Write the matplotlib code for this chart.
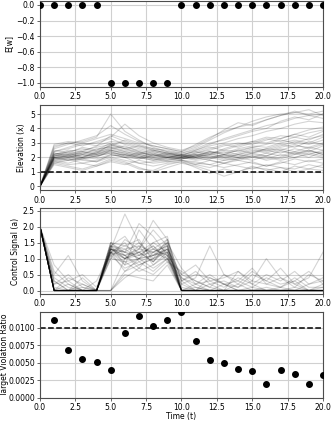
import matplotlib
matplotlib.use("Agg")
import matplotlib.pyplot as plt
import numpy as np

# ---------------- data ----------------
time_steps = list(range(21))
expected_w = [0, 0, 0, 0, 0, -1, -1, -1, -1, -1, 0, 0, 0, 0, 0, 0, 0, 0, 0, 0, 0]

elevation_runs = [
    [0, 2.0, 2.1, 2.3, 2.2, 2.6, 2.4, 2.2, 2.0, 2.1, 2.0, 2.2, 2.4, 2.3, 2.6, 2.8, 2.7, 3.0, 3.2, 3.0, 3.4],
    [0, 1.9, 1.8, 1.9, 2.1, 2.3, 2.0, 1.9, 2.2, 1.9, 2.0, 1.8, 1.9, 2.1, 2.0, 2.2, 2.1, 2.4, 2.3, 2.5, 2.2],
    [0, 2.4, 2.6, 2.9, 3.0, 3.3, 2.9, 2.6, 2.4, 2.2, 2.1, 2.5, 2.9, 3.3, 3.6, 3.9, 4.2, 4.4, 4.7, 4.9, 5.0],
    [0, 1.7, 1.5, 1.6, 1.8, 2.1, 2.2, 2.0, 1.8, 1.9, 1.8, 1.6, 1.5, 1.3, 1.5, 1.7, 1.4, 1.6, 1.9, 1.7, 1.9],
    [0, 2.2, 2.5, 2.4, 2.8, 3.1, 3.0, 2.7, 2.5, 2.3, 2.2, 2.4, 2.2, 2.6, 2.9, 3.1, 3.4, 3.3, 3.6, 3.9, 4.1],
    [0, 2.0, 1.9, 2.2, 2.0, 2.5, 2.3, 2.1, 1.9, 2.0, 1.9, 2.1, 2.3, 2.0, 2.2, 2.4, 2.6, 2.5, 2.8, 2.7, 3.0],
    [0, 2.8, 3.0, 3.1, 3.4, 5.0, 3.8, 3.2, 2.7, 2.4, 2.3, 2.6, 3.0, 3.2, 3.5, 3.8, 4.0, 4.5, 4.8, 4.6, 5.0],
    [0, 1.6, 1.4, 1.2, 1.5, 1.9, 1.7, 1.3, 1.0, 1.3, 1.6, 1.4, 1.1, 0.7, 1.0, 1.3, 1.2, 1.0, 1.4, 1.2, 1.5],
    [0, 2.3, 2.2, 2.5, 2.7, 2.9, 2.6, 2.8, 2.5, 2.3, 2.1, 2.0, 2.3, 2.5, 2.4, 2.7, 2.9, 3.2, 3.0, 3.3, 3.5],
    [0, 2.1, 2.3, 2.0, 2.2, 2.4, 2.1, 2.3, 2.1, 2.0, 2.1, 1.9, 2.0, 1.8, 1.9, 2.1, 2.0, 1.8, 2.0, 2.2, 2.0],
    [0, 2.6, 2.9, 3.2, 3.5, 4.2, 3.6, 3.1, 2.8, 2.6, 2.4, 2.7, 3.2, 3.7, 4.1, 4.5, 4.8, 5.0, 5.1, 5.0, 5.2],
    [0, 1.8, 2.0, 1.8, 1.7, 2.0, 1.8, 1.6, 1.7, 1.8, 1.9, 2.0, 1.8, 1.6, 1.8, 1.6, 1.4, 1.7, 1.5, 1.8, 1.6],
    [0, 2.0, 2.2, 2.4, 2.3, 2.7, 2.5, 2.3, 2.2, 2.1, 2.0, 2.3, 2.5, 2.8, 3.0, 2.9, 3.2, 3.5, 3.4, 3.7, 3.9],
    [0, 1.9, 2.1, 2.0, 2.4, 2.6, 2.8, 2.4, 2.1, 2.2, 2.1, 2.2, 2.0, 2.2, 2.1, 2.3, 2.5, 2.3, 2.6, 2.4, 2.8],
    [0, 2.5, 2.3, 2.7, 2.5, 3.0, 2.7, 2.5, 2.3, 2.0, 1.9, 2.1, 2.4, 2.2, 2.5, 2.3, 2.6, 2.9, 2.7, 3.1, 2.9],
    [0, 1.5, 1.3, 1.1, 1.4, 1.7, 1.5, 1.8, 1.6, 1.7, 1.8, 1.5, 1.3, 1.6, 1.4, 1.2, 1.5, 1.3, 1.2, 1.5, 1.3],
    [0, 2.2, 2.0, 2.3, 2.5, 2.8, 3.2, 2.9, 2.6, 2.4, 2.2, 2.4, 2.7, 2.5, 2.8, 3.1, 3.0, 3.3, 3.6, 3.4, 3.8],
    [0, 2.0, 2.1, 1.9, 2.1, 2.3, 2.2, 2.0, 2.3, 2.1, 2.0, 2.2, 2.1, 1.9, 2.2, 2.0, 2.3, 2.1, 2.4, 2.2, 2.5],
    [0, 2.7, 3.0, 2.8, 3.1, 3.4, 4.3, 3.5, 3.0, 2.7, 2.5, 2.8, 3.3, 3.9, 4.4, 4.2, 4.6, 4.9, 5.2, 4.9, 4.7],
    [0, 1.8, 1.6, 1.9, 1.7, 2.2, 2.0, 1.6, 1.4, 1.6, 1.7, 1.5, 1.8, 1.6, 1.9, 2.1, 1.8, 2.0, 2.3, 2.0, 2.4],
    [0, 2.1, 2.4, 2.2, 2.6, 2.7, 2.4, 2.2, 2.4, 2.2, 2.1, 2.3, 2.6, 2.9, 2.7, 3.0, 3.3, 3.1, 3.4, 3.2, 3.6],
    [0, 2.3, 2.1, 2.4, 2.2, 2.5, 2.2, 2.0, 1.8, 2.0, 2.2, 2.0, 2.2, 2.4, 2.2, 2.5, 2.3, 2.6, 2.4, 2.7, 2.5],
    [0, 1.7, 1.9, 1.6, 1.4, 1.8, 1.6, 1.2, 1.1, 1.5, 1.7, 1.3, 0.9, 1.2, 1.0, 1.4, 1.1, 1.3, 1.0, 1.2, 1.1],
    [0, 2.4, 2.7, 3.0, 2.8, 3.5, 3.1, 2.8, 2.6, 2.5, 2.3, 2.5, 2.8, 3.0, 3.3, 3.5, 3.8, 4.0, 4.3, 4.5, 4.4],
    [0, 2.0, 1.8, 2.0, 1.9, 2.2, 2.0, 2.2, 2.0, 1.8, 2.0, 1.9, 2.1, 2.0, 1.8, 2.0, 1.9, 2.2, 2.0, 2.3, 2.1],
    [0, 2.9, 3.1, 3.0, 3.3, 3.6, 3.3, 3.0, 2.8, 2.6, 2.4, 2.9, 3.4, 3.8, 4.1, 4.3, 4.6, 4.9, 5.1, 5.3, 4.9],
    [0, 1.9, 2.0, 2.2, 2.1, 2.4, 2.1, 1.9, 2.1, 2.3, 2.1, 2.0, 2.2, 2.1, 2.3, 2.6, 2.4, 2.7, 2.9, 2.6, 2.9],
    [0, 2.2, 2.4, 2.6, 2.4, 2.8, 2.6, 2.4, 2.2, 2.0, 1.9, 2.1, 1.9, 2.2, 2.0, 2.3, 2.1, 2.5, 2.2, 2.4, 2.3],
    [0, 1.6, 1.8, 2.0, 2.3, 2.5, 2.3, 2.1, 1.9, 1.7, 1.8, 1.7, 1.5, 1.8, 2.0, 1.8, 2.1, 1.9, 2.2, 2.5, 2.2],
    [0, 2.1, 2.2, 2.1, 2.3, 2.9, 2.6, 2.3, 2.5, 2.3, 2.2, 2.1, 2.4, 2.2, 2.5, 2.7, 2.5, 2.8, 3.1, 2.9, 3.2],
]

control_runs = [
    [2.0, 0, 0, 0, 0, 1.3, 1.1, 1.2, 0.9, 1.4, 0, 0, 0, 0, 0, 0, 0, 0, 0, 0, 0],
    [2.0, 0, 0, 0, 0, 1.4, 0.8, 1.0, 1.3, 1.6, 0, 0.2, 0, 0, 0, 0, 0, 0, 0, 0, 0],
    [2.0, 0.3, 0, 0, 0, 1.2, 1.5, 0.9, 1.1, 1.2, 0.3, 0, 0, 0.2, 0, 0, 0, 0, 0, 0, 0],
    [2.0, 0, 0, 0.4, 0, 0, 0.6, 1.0, 0.7, 1.0, 0, 0, 0, 0, 0, 0, 0, 0, 0, 0, 0],
    [2.0, 0, 0.2, 0, 0, 1.3, 2.4, 1.5, 1.1, 1.3, 0.5, 0.3, 0.1, 0, 0.2, 0, 0.1, 0, 0, 0, 0.1],
    [2.0, 0.8, 0.3, 0, 0, 1.0, 0.9, 0.6, 0.8, 1.1, 0, 0, 0, 0, 0, 0, 0, 0, 0, 0, 0],
    [2.0, 0, 0, 0, 0, 1.5, 1.2, 2.1, 1.7, 1.1, 0, 0, 0.4, 0.2, 0, 0, 0, 0, 0, 0, 0],
    [2.0, 0, 0, 0, 0, 0, 0.4, 0.7, 0.5, 0.9, 0, 0, 0, 0, 0, 0, 0, 0, 0, 0, 0],
    [2.0, 0.2, 0.5, 0.1, 0, 1.2, 1.0, 1.4, 1.2, 1.5, 0.7, 0.2, 0.3, 0.1, 0.4, 0.2, 0, 0.1, 0.3, 0, 0.2],
    [2.0, 0, 0, 0, 0, 1.4, 1.3, 1.0, 1.5, 1.7, 0, 0, 0, 0, 0, 0, 0, 0, 0, 0, 0],
    [2.0, 0.5, 1.1, 0.3, 0, 1.1, 0.7, 0.9, 0.6, 1.0, 0.2, 0.4, 1.4, 0.5, 0.2, 0.6, 0.3, 0.1, 0, 0.2, 0.4],
    [2.0, 0, 0, 0, 0, 1.3, 1.0, 1.3, 1.9, 1.4, 0, 0, 0, 0, 0, 0, 0, 0, 0, 0, 0],
    [2.0, 0, 0, 0.2, 0, 1.2, 1.1, 0.8, 1.0, 1.3, 0.4, 0.1, 0, 0, 0.6, 0.3, 1.0, 0.4, 0.2, 0, 0],
    [2.0, 0, 0, 0, 0, 1.4, 1.2, 1.5, 1.0, 1.2, 0, 0, 0, 0, 0, 0, 0, 0, 0, 0, 0],
    [2.0, 0.1, 0, 0, 0, 0, 0.5, 0.4, 0.3, 0.8, 0, 0, 0, 0, 0, 0, 0, 0, 0, 0, 0],
    [2.0, 0, 0, 0, 0, 1.0, 1.6, 1.3, 2.2, 1.6, 0.3, 0.6, 0.2, 0.3, 0.1, 0.5, 0.3, 0.7, 0.2, 0.4, 1.2],
    [2.0, 0, 0.4, 0.2, 0, 1.3, 1.0, 1.1, 1.2, 1.0, 0, 0, 0, 0, 0, 0, 0, 0, 0, 0, 0],
    [2.0, 0, 0, 0, 0, 1.5, 1.4, 1.2, 0.9, 1.5, 0.1, 0, 0.2, 0, 0, 0.1, 0, 0, 0.1, 0, 0],
    [2.0, 0.4, 0.1, 0, 0.3, 1.2, 0.8, 1.9, 1.3, 1.1, 0.5, 0.8, 0.3, 0.4, 0.6, 0.2, 0.5, 0.3, 0.6, 0.2, 0.3],
    [2.0, 0, 0, 0, 0, 1.3, 1.2, 1.0, 1.1, 1.3, 0, 0, 0, 0, 0, 0, 0, 0, 0, 0, 0],
    [2.0, 0, 0, 0, 0, 0, 1.0, 1.2, 1.5, 1.2, 0, 0, 0, 0, 0, 0, 0, 0, 0, 0, 0],
    [2.0, 0.2, 0.3, 0.5, 0.1, 1.4, 1.7, 1.1, 1.4, 0.9, 0.6, 0.3, 0.1, 0.5, 0.3, 0.7, 0.2, 0.4, 0.1, 0.5, 0.3],
    [2.0, 0, 0, 0, 0, 1.3, 1.1, 0.7, 1.2, 1.4, 0, 0, 0, 0, 0, 0, 0, 0, 0, 0, 0],
    [2.0, 0, 0, 0, 0, 1.1, 1.3, 1.4, 0.8, 1.2, 0.2, 0, 0, 0, 0, 0, 0, 0, 0, 0, 0],
    [2.0, 0.6, 0.2, 0, 0, 1.2, 0.6, 0.8, 1.0, 1.6, 0.3, 0.5, 0.4, 0.2, 0.3, 0.1, 0.4, 0.2, 0.3, 0.6, 0.2],
    [2.0, 0, 0, 0, 0, 1.4, 1.0, 1.2, 1.3, 1.1, 0, 0, 0, 0, 0, 0, 0, 0, 0, 0, 0],
    [2.0, 0, 0, 0, 0, 1.2, 1.4, 1.6, 0.9, 1.3, 0, 0.1, 0, 0, 0, 0, 0, 0, 0, 0, 0],
    [2.0, 0.3, 0, 0.1, 0, 1.3, 1.2, 1.1, 1.4, 1.0, 0.4, 0.2, 0.5, 0.2, 0.1, 0.3, 0.2, 0.1, 0.4, 0.1, 0.1],
    [2.0, 0, 0, 0, 0, 1.2, 0.9, 1.0, 1.1, 1.5, 0, 0, 0, 0, 0, 0, 0, 0, 0, 0, 0],
    [2.0, 0, 0, 0, 0, 1.5, 1.1, 1.3, 1.2, 1.4, 0, 0, 0, 0, 0, 0, 0, 0, 0, 0, 0],
]

violation_t = list(range(1, 21))
violation_ratio = [0.0111, 0.0068, 0.0056, 0.0051, 0.0039, 0.0093, 0.0117, 0.0102,
                   0.0111, 0.0123, 0.0081, 0.0054, 0.0049, 0.0041, 0.0038, 0.0020,
                   0.0039, 0.0034, 0.0019, 0.0032]

target_elevation = 1.0
target_ratio = 0.01

# ---------------- plot ----------------
plt.rcParams['font.family'] = ['DejaVu Sans']
FS = 5.5
plt.rcParams['font.size'] = FS

fig, axes = plt.subplots(4, 1, figsize=(3.31, 4.23), dpi=100)
fig.subplots_adjust(left=0.1208, right=0.9758, top=0.9976, bottom=0.06, hspace=0.208)

spine_col = '0.3'
grid_col = '#d0d0d0'

for ax in axes:
    ax.set_xlim(0, 20)
    ax.set_xticks([0, 2.5, 5, 7.5, 10, 12.5, 15, 17.5, 20])
    ax.grid(True, color=grid_col, linewidth=0.8)
    ax.set_axisbelow(True)
    for s in ax.spines.values():
        s.set_color(spine_col)
        s.set_linewidth(0.8)
    ax.tick_params(labelsize=FS, length=2.5, width=0.6, color=spine_col, pad=1.2)

ax1, ax2, ax3, ax4 = axes

ax1.scatter(time_steps, expected_w, s=16, color='black', zorder=3)
ax1.set_ylim(-1.05, 0.05)
ax1.set_yticks([-1.0, -0.8, -0.6, -0.4, -0.2, 0.0])
ax1.set_ylabel('E[w]', fontsize=FS)
ax1.yaxis.set_label_coords(-0.095, 0.5)

for run in elevation_runs:
    ax2.plot(time_steps, run, color='black', alpha=0.17, linewidth=0.8)
ax2.axhline(target_elevation, color='black', linestyle='--', linewidth=1.1)
ax2.set_ylim(-0.28, 5.65)
ax2.set_yticks([0, 1, 2, 3, 4, 5])
ax2.set_ylabel('Elevation (x)', fontsize=FS)
ax2.yaxis.set_label_coords(-0.05, 0.5)

for run in control_runs:
    ax3.plot(time_steps, run, color='black', alpha=0.17, linewidth=0.8)
ax3.set_ylim(-0.11, 2.58)
ax3.set_yticks([0.0, 0.5, 1.0, 1.5, 2.0, 2.5])
ax3.set_ylabel('Control Signal (a)', fontsize=FS)
ax3.yaxis.set_label_coords(-0.072, 0.5)

ax4.scatter(violation_t, violation_ratio, s=16, color='black', zorder=3)
ax4.axhline(target_ratio, color='black', linestyle='--', linewidth=1.1)
ax4.set_ylim(0, 0.0123)
ax4.set_yticks([0.0, 0.0025, 0.005, 0.0075, 0.01])
ax4.set_yticklabels(['0.0000', '0.0025', '0.0050', '0.0075', '0.0100'])
ax4.set_ylabel('Target Violation Ratio', fontsize=FS)
ax4.yaxis.set_label_coords(-0.11, 0.5)
ax4.set_xlabel('Time (t)', fontsize=FS)
ax4.xaxis.set_label_coords(0.5, -0.165)

fig.savefig('out.png', dpi=100)
